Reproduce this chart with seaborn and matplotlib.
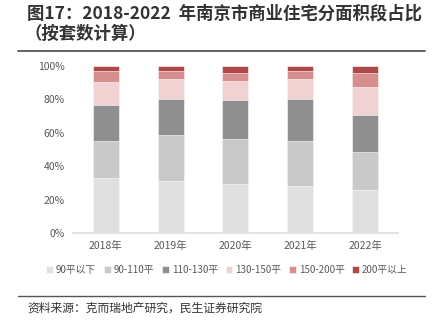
import matplotlib
matplotlib.use("Agg")
import matplotlib.pyplot as plt
import seaborn as sns
import pandas as pd
import numpy as np
from matplotlib.ticker import PercentFormatter

years = ["2018年", "2019年", "2020年", "2021年", "2022年"]
segments = ["90平以下", "90-110平", "110-130平", "130-150平", "150-200平", "200平以上"]
share_below90 = [32.7, 31.1, 29.1, 27.9, 25.5]
share_90_110 = [22.3, 27.5, 27.1, 27.3, 22.8]
share_110_130 = [21.6, 21.6, 23.0, 24.6, 22.2]
share_130_150 = [13.7, 11.9, 11.9, 12.1, 16.8]
share_150_200 = [6.3, 4.7, 4.7, 5.1, 8.3]
share_above200 = [3.4, 3.2, 4.2, 3.0, 4.4]
colors = ["#e0e0e0", "#c9c9c9", "#8f8f8f", "#f0d2d2", "#d68e8e", "#b04848"]

sns.set_theme(style="white")
plt.rcParams["font.family"] = ["Noto Sans CJK SC", "DejaVu Sans"]

series = [share_below90, share_90_110, share_110_130, share_130_150, share_150_200, share_above200]
rows = []
for seg, vals in zip(segments, series):
    for y, v in zip(years, vals):
        rows.append({"year": y, "segment": seg, "share": v})
df = pd.DataFrame(rows)

fig = plt.figure(figsize=(4.33, 3.29), dpi=100)
ax = fig.add_axes([73 / 433, 1 - 233 / 329, 325 / 433, 167.3 / 329])

# stack by drawing cumulative totals; lower segments sit in front of taller ones
bottom = np.zeros(len(years))
for i, (seg, col) in enumerate(zip(segments, colors)):
    sub = df[df["segment"] == seg].set_index("year").loc[years]
    vals = sub["share"].to_numpy()
    sns.barplot(x=years, y=bottom + vals, color=col, width=0.4, ax=ax,
                saturation=1, label=seg, zorder=10 - i,
                edgecolor="white", linewidth=0.4)
    bottom = bottom + vals

handles, labels = ax.get_legend_handles_labels()
if ax.legend_ is not None:
    ax.legend_.remove()

ax.set_xlim(-0.5, 4.5)
ax.set_ylim(0, 100)
ax.set_yticks([0, 20, 40, 60, 80, 100])
ax.yaxis.set_major_formatter(PercentFormatter(decimals=0))
ax.tick_params(axis="both", labelsize=7.5, colors="#595959", length=0, pad=6)
ax.set_xlabel("")
ax.set_ylabel("")
for s in ["top", "right", "left"]:
    ax.spines[s].set_visible(False)
ax.spines["bottom"].set_color("#e3e3e3")
ax.spines["bottom"].set_linewidth(1.5)
ax.grid(False)

fig.legend(handles, labels, loc="center", bbox_to_anchor=(227 / 433, 1 - 270 / 329),
           ncol=6, frameon=False, fontsize=7, handlelength=0.7, handleheight=0.7,
           handletextpad=0.3, columnspacing=0.8, labelcolor="#595959")

fig.text(27 / 433, 1 - 14 / 329, "图17：2018-2022  年南京市商业住宅分面积段占比",
         fontsize=12.5, fontweight="bold", color="#333333", va="center", ha="left")
fig.text(24 / 433, 1 - 34 / 329, "（按套数计算）",
         fontsize=12.5, fontweight="bold", color="#333333", va="center", ha="left")
fig.add_artist(plt.Line2D([18 / 433, 425 / 433], [1 - 51 / 329] * 2, color="#555555", lw=1.3))
fig.add_artist(plt.Line2D([18 / 433, 425 / 433], [1 - 296 / 329] * 2, color="#555555", lw=1.0))
fig.text(27 / 433, 1 - 308 / 329, "资料来源：克而瑞地产研究，民生证券研究院",
         fontsize=8.5, color="#333333", va="center", ha="left")

fig.savefig("out.png", dpi=100)
